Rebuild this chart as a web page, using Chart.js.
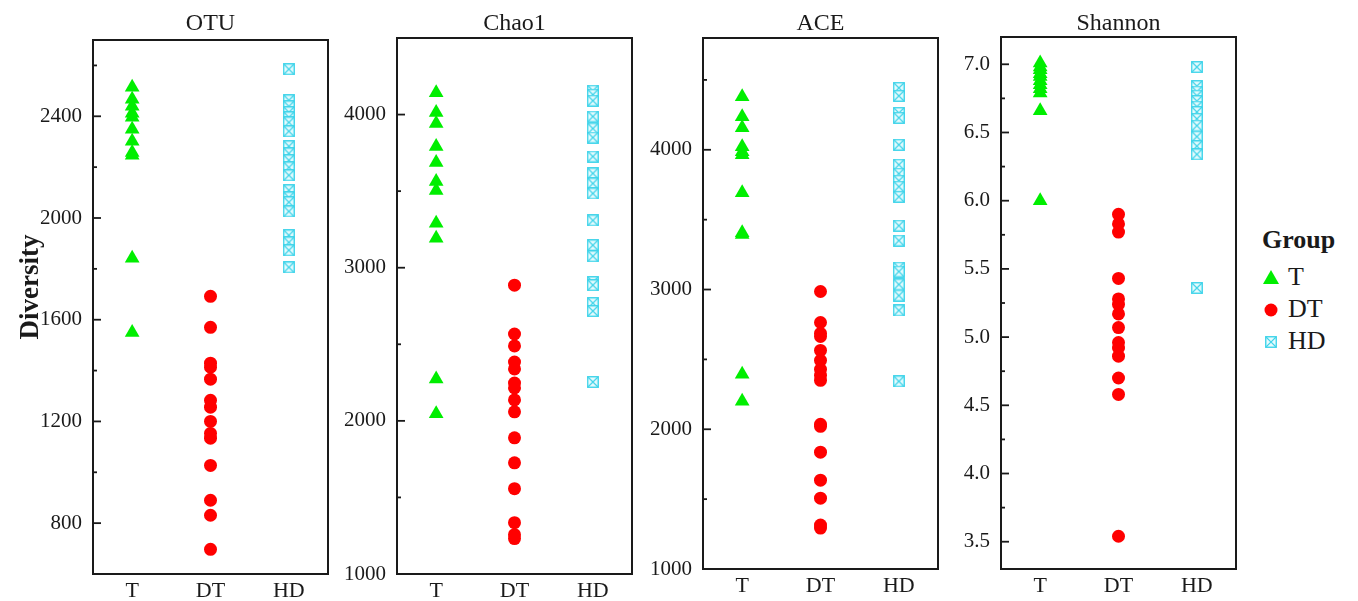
<!DOCTYPE html>
<html>
<head>
<meta charset="utf-8">
<script src="https://cdn.jsdelivr.net/npm/chart.js@4/dist/chart.umd.min.js"></script>
<style>
    body { margin: 0; background: #fff; width: 1358px; height: 601px; overflow: hidden; position: relative; font-family: 'Liberation Serif', serif; color: #1a1a1a; }
    canvas.painel { position: absolute; top: 0; }
    #ytitle { position: absolute; left: -71px; top: 272px; width: 200px; height: 30px; line-height: 30px; text-align: center;
              font-weight: bold; font-size: 27px; transform: rotate(-90deg); }
    .leg { position: absolute; font-size: 26px; line-height: 30px; }
    .leg svg { position: absolute; }
</style>
</head>
<body>
<canvas class="painel" id="c0"></canvas>
<canvas class="painel" id="c1"></canvas>
<canvas class="painel" id="c2"></canvas>
<canvas class="painel" id="c3"></canvas>
<div id="ytitle">Diversity</div>

<div class="leg" style="left:1262px; top:225px; font-weight:bold;">Group</div>
<div class="leg" style="left:1262px; top:262px;">
    <svg width="16" height="14" style="left:1px; top:8px;"><polygon points="8,0 16,14 0,14" fill="#00ee00"/></svg>
    <span style="margin-left:26px;">T</span>
</div>
<div class="leg" style="left:1262px; top:294px;">
    <svg width="14" height="14" style="left:2px; top:9px;"><circle cx="7" cy="7" r="6.5" fill="#ff0000"/></svg>
    <span style="margin-left:26px;">DT</span>
</div>
<div class="leg" style="left:1262px; top:326px;">
    <svg width="12" height="12" style="left:3px; top:10px;">
        <rect x="0.75" y="0.75" width="10.5" height="10.5" fill="#e6fbfd" stroke="#40d4ea" stroke-width="1.4"/>
        <path d="M1 1 L11 11 M11 1 L1 11" stroke="#40d4ea" stroke-width="1.2"/>
    </svg>
    <span style="margin-left:26px;">HD</span>
</div>

<script>
// grupos
const categorias = ['T', 'DT', 'HD'];

// OTU
const otuT  = [2514, 2467, 2439, 2412, 2396, 2349, 2302, 2258, 2247, 1842, 1550];
const otuDT = [1692, 1570, 1429, 1413, 1366, 1283, 1256, 1200, 1153, 1134, 1027, 890, 831, 697];
const otuHD = [2585, 2463, 2439, 2416, 2396, 2376, 2341, 2282, 2254, 2227, 2199, 2168, 2109, 2081, 2062, 2026, 1932, 1904, 1873, 1806];
const otuFaixa = [600, 2700];
const otuMaior = [800, 1200, 1600, 2000, 2400];
const otuMenor = [1000, 1400, 1800, 2200, 2600];

// Chao1
const chaoT  = [4143, 4013, 3941, 3792, 3687, 3563, 3505, 3290, 3192, 2274, 2046];
const chaoDT = [2886, 2567, 2489, 2384, 2339, 2247, 2215, 2137, 2059, 1889, 1726, 1557, 1335, 1257, 1231];
const chaoHD = [4156, 4130, 4091, 3987, 3909, 3850, 3726, 3616, 3550, 3485, 3309, 3147, 3075, 2906, 2886, 2769, 2717, 2254];
const chaoFaixa = [1000, 4500];
const chaoMaior = [1000, 2000, 3000, 4000];
const chaoMenor = [1500, 2500, 3500];

// ACE
const aceT  = [4379, 4236, 4157, 4021, 3986, 3964, 3693, 3407, 3393, 2393, 2200];
const aceDT = [2986, 2764, 2686, 2664, 2564, 2493, 2429, 2386, 2350, 2036, 2021, 1836, 1636, 1507, 1314, 1293];
const aceHD = [4443, 4386, 4264, 4229, 4036, 3893, 3829, 3779, 3736, 3664, 3457, 3350, 3157, 3129, 3036, 2957, 2850, 2343];
const aceFaixa = [1000, 4800];
const aceMaior = [1000, 2000, 3000, 4000];
const aceMenor = [1500, 2500, 3500, 4500];

// Shannon
const shT  = [7.01, 6.98, 6.96, 6.93, 6.91, 6.88, 6.85, 6.82, 6.79, 6.66, 6.00];
const shDT = [5.90, 5.83, 5.77, 5.43, 5.28, 5.24, 5.17, 5.07, 4.96, 4.92, 4.86, 4.70, 4.58, 3.54];
const shHD = [6.98, 6.84, 6.80, 6.77, 6.73, 6.69, 6.65, 6.60, 6.55, 6.47, 6.40, 6.34, 5.36];
const shFaixa = [3.3, 7.2];
const shMaior = [3.5, 4.0, 4.5, 5.0, 5.5, 6.0, 6.5, 7.0];
const shMenor = [3.75, 4.25, 4.75, 5.25, 5.75, 6.25, 6.75];

const FONTE = "'Liberation Serif', 'Times New Roman', serif";

// quadrado com X para o grupo HD
function marcadorHD() {
    const c = document.createElement('canvas');
    c.width = 12; c.height = 12;
    const g = c.getContext('2d');
    g.fillStyle = '#e6fbfd';
    g.fillRect(1, 1, 10, 10);
    g.strokeStyle = '#40d4ea';
    g.lineWidth = 1.4;
    g.strokeRect(0.75, 0.75, 10.5, 10.5);
    g.lineWidth = 1.2;
    g.beginPath();
    g.moveTo(1, 1); g.lineTo(11, 11);
    g.moveTo(11, 1); g.lineTo(1, 11);
    g.stroke();
    return c;
}
const imgHD = marcadorHD();

// moldura, marcas do eixo y e titulo do painel
const molduraPlugin = {
    id: 'moldura',
    afterDraw(chart, args, opts) {
        const { ctx, chartArea: a, scales } = chart;
        ctx.save();
        ctx.strokeStyle = '#1a1a1a';
        ctx.lineWidth = 1.8;
        const ys = scales.y;
        ys.ticks.forEach(t => {
            const y = ys.getPixelForValue(t.value);
            const len = opts.maior.includes(t.value) ? 8 : 4;
            ctx.beginPath();
            ctx.moveTo(a.left, y);
            ctx.lineTo(a.left + len, y);
            ctx.stroke();
        });
        ctx.lineWidth = 2;
        ctx.strokeRect(a.left, a.top, a.right - a.left, a.bottom - a.top);
        ctx.fillStyle = '#1a1a1a';
        ctx.font = '24px ' + FONTE;
        ctx.textAlign = 'center';
        ctx.textBaseline = 'alphabetic';
        ctx.fillText(opts.titulo, (a.left + a.right) / 2, 30);
        ctx.restore();
    }
};

function pontos(vals, idx) {
    return vals.map(v => ({ x: idx, y: v }));
}

function criarPainel(id, cfg) {
    const canvas = document.getElementById(id);
    const larg = 300;
    canvas.width = larg;
    canvas.height = 601;
    canvas.style.width = larg + 'px';
    canvas.style.height = '601px';
    canvas.style.left = (cfg.esquerda - 60) + 'px';

    const marcas = cfg.maior.concat(cfg.menor).sort((a, b) => a - b);

    return new Chart(canvas.getContext('2d'), {
        type: 'scatter',
        data: {
            datasets: [
                { label: 'T', data: pontos(cfg.t, 0), pointStyle: 'triangle', pointRadius: 8.5,
                  backgroundColor: '#00ee00', borderColor: '#00ee00', borderWidth: 0 },
                { label: 'DT', data: pontos(cfg.dt, 1), pointStyle: 'circle', pointRadius: 6.5,
                  backgroundColor: '#ff0000', borderColor: '#ff0000', borderWidth: 0 },
                { label: 'HD', data: pontos(cfg.hd, 2), pointStyle: imgHD, pointRadius: 6 }
            ]
        },
        options: {
            responsive: false,
            animation: false,
            devicePixelRatio: 1,
            layout: { autoPadding: false, padding: { top: cfg.topo, right: larg - 60 - 235, left: 0, bottom: 0 } },
            plugins: {
                legend: { display: false },
                tooltip: { enabled: false },
                moldura: { titulo: cfg.titulo, maior: cfg.maior }
            },
            scales: {
                x: {
                    type: 'linear', min: -0.5, max: 2.5,
                    grid: { display: false, drawTicks: false },
                    border: { display: false },
                    afterBuildTicks: s => { s.ticks = [0, 1, 2].map(v => ({ value: v })); },
                    afterFit: s => { s.height = 601 - cfg.base; },
                    ticks: {
                        padding: 4, color: '#1a1a1a', maxRotation: 0, autoSkip: false,
                        font: { family: FONTE, size: 22 },
                        callback: v => categorias[v]
                    }
                },
                y: {
                    type: 'linear', min: cfg.faixa[0], max: cfg.faixa[1],
                    grid: { display: false, drawTicks: false },
                    border: { display: false },
                    afterBuildTicks: s => { s.ticks = marcas.map(v => ({ value: v })); },
                    afterFit: s => { s.width = 60; },
                    ticks: {
                        padding: 11, color: '#1a1a1a', autoSkip: false,
                        font: { family: FONTE, size: 21 },
                        callback: v => cfg.maior.includes(v) ? (cfg.casas ? v.toFixed(cfg.casas) : String(v)) : ''
                    }
                }
            }
        },
        plugins: [molduraPlugin]
    });
}

criarPainel('c0', { titulo: 'OTU', esquerda: 93, topo: 40, base: 574, faixa: otuFaixa,
    maior: otuMaior, menor: otuMenor, t: otuT, dt: otuDT, hd: otuHD });
criarPainel('c1', { titulo: 'Chao1', esquerda: 397, topo: 38, base: 574, faixa: chaoFaixa,
    maior: chaoMaior, menor: chaoMenor, t: chaoT, dt: chaoDT, hd: chaoHD });
criarPainel('c2', { titulo: 'ACE', esquerda: 703, topo: 38, base: 569, faixa: aceFaixa,
    maior: aceMaior, menor: aceMenor, t: aceT, dt: aceDT, hd: aceHD });
criarPainel('c3', { titulo: 'Shannon', esquerda: 1001, topo: 37, base: 569, faixa: shFaixa,
    maior: shMaior, menor: shMenor, t: shT, dt: shDT, hd: shHD, casas: 1 });
</script>
</body>
</html>
